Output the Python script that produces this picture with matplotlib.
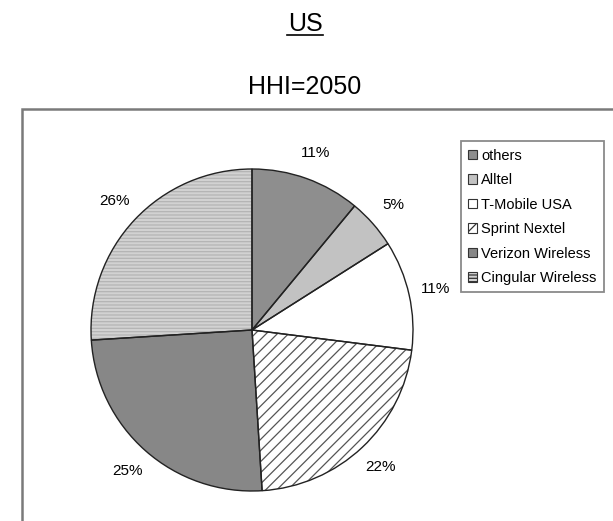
import matplotlib.pyplot as plt
from matplotlib.patches import Rectangle, Patch

plt.rcParams['font.family'] = ['Liberation Sans', 'DejaVu Sans']
plt.rcParams['hatch.linewidth'] = 0.9

labels = ['others', 'Alltel', 'T-Mobile USA', 'Sprint Nextel', 'Verizon Wireless', 'Cingular Wireless']
shares = [11, 5, 11, 22, 25, 26]
faces = ['#8e8e8e', '#c2c2c2', '#ffffff', '#ffffff', '#878787', '#d2d2d2']
hatches = [None, None, None, '///', None, '-----']
hatch_cols = ['none', 'none', 'none', '#555555', 'none', '#b4b4b4']

W, H = 613, 521
fig = plt.figure(figsize=(W / 100, H / 100), dpi=100)

# outer frame (runs off the right/bottom edge)
fig.patches.append(Rectangle((22 / W, -0.05), 1.0, (H - 109) / H + 0.05,
                             transform=fig.transFigure, fill=False,
                             edgecolor='#7a7a7a', lw=1.8))

fig.text(305 / W, 1 - 24 / H, 'US', ha='center', va='center', fontsize=18)
fig.add_artist(plt.Line2D([287 / W, 323 / W], [1 - 35 / H, 1 - 35 / H],
                          transform=fig.transFigure, color='black', lw=1.2))
fig.text(305 / W, 1 - 87 / H, 'HHI=2050', ha='center', va='center', fontsize=18)

# pie: centre (252, 330), radius 161 px
cx, cy, r = 252, 330, 161
ax = fig.add_axes([(cx - r) / W, (H - cy - r) / H, 2 * r / W, 2 * r / H])

wedges, texts = ax.pie(shares, colors=faces, startangle=90, counterclock=False,
                       radius=1, labels=[f'{s}%' for s in shares],
                       labeldistance=1.17,
                       textprops={'fontsize': 11, 'ha': 'center', 'va': 'center'},
                       wedgeprops={'linewidth': 0})
# hatches drawn on top, coloured via edgecolor
hw, _ = ax.pie(shares, startangle=90, counterclock=False, radius=1,
               wedgeprops={'fill': False, 'linewidth': 0})
for w, h, c in zip(hw, hatches, hatch_cols):
    if h:
        w.set_hatch(h)
        w.set_edgecolor(c)
# outlines
ax.pie(shares, startangle=90, counterclock=False, radius=1,
       wedgeprops={'fill': False, 'linewidth': 1.0, 'edgecolor': '#222222'})
ax.set_xlim(-1, 1)
ax.set_ylim(-1, 1)
ax.axis('off')

handles = [Patch(facecolor=f, edgecolor='#333333', hatch=h, lw=0.8)
           for f, h in zip(faces, hatches)]
leg = fig.legend(handles, labels, loc='upper right',
                 bbox_to_anchor=(611 / W, 1 - 134 / H),
                 fontsize=10.5, handlelength=0.6, handleheight=0.6,
                 handletextpad=0.3, labelspacing=0.72, borderpad=0.5,
                 fancybox=False, framealpha=1)
leg.get_frame().set_edgecolor('#8a8a8a')
leg.get_frame().set_linewidth(1.3)

fig.savefig('out.png', dpi=100)
